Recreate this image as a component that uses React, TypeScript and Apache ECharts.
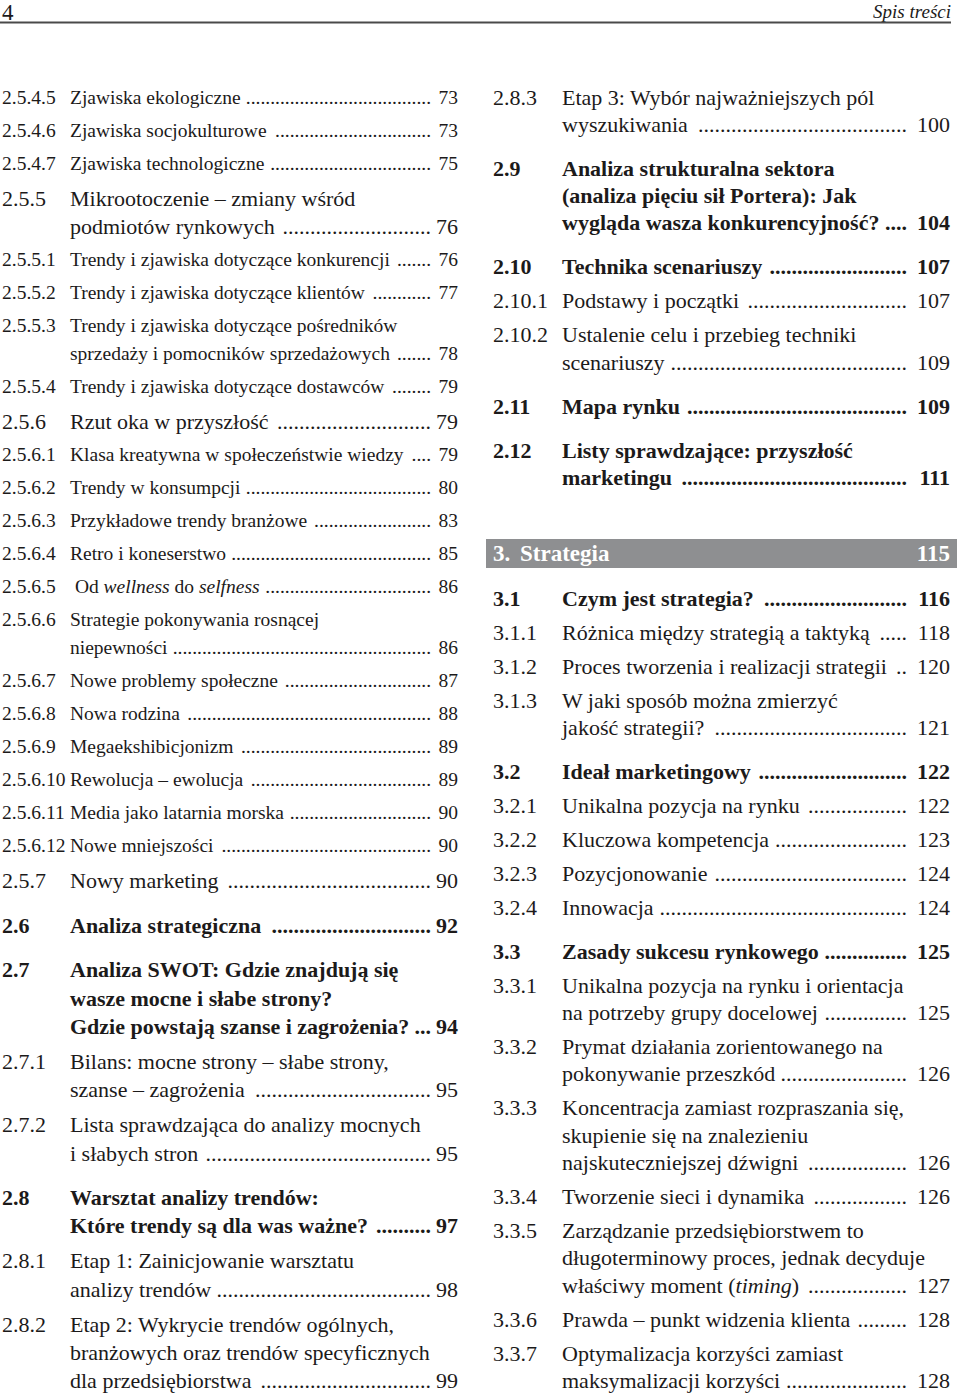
import React, { useEffect, useRef } from "react";
import * as echarts from "echarts";

// ---------- DATA ----------
const headerPage = "4";
const headerTitle = "Spis treści";

const leftNums = ["2.5.4.5", "2.5.4.6", "2.5.4.7", "2.5.5", "2.5.5.1", "2.5.5.2", "2.5.5.3", "2.5.5.4", "2.5.6", "2.5.6.1", "2.5.6.2", "2.5.6.3", "2.5.6.4", "2.5.6.5", "2.5.6.6", "2.5.6.7", "2.5.6.8", "2.5.6.9", "2.5.6.10", "2.5.6.11", "2.5.6.12", "2.5.7", "2.6", "2.7", "2.7.1", "2.7.2", "2.8", "2.8.1", "2.8.2"];
const leftTitles = [
  ["Zjawiska ekologiczne"],
  ["Zjawiska socjokulturowe"],
  ["Zjawiska technologiczne"],
  ["Mikrootoczenie – zmiany wśród", "podmiotów rynkowych"],
  ["Trendy i zjawiska dotyczące konkurencji"],
  ["Trendy i zjawiska dotyczące klientów"],
  ["Trendy i zjawiska dotyczące pośredników", "sprzedaży i pomocników sprzedażowych"],
  ["Trendy i zjawiska dotyczące dostawców"],
  ["Rzut oka w przyszłość"],
  ["Klasa kreatywna w społeczeństwie wiedzy"],
  ["Trendy w konsumpcji"],
  ["Przykładowe trendy branżowe"],
  ["Retro i koneserstwo"],
  [" Od *wellness* do *selfness*"],
  ["Strategie pokonywania rosnącej", "niepewności"],
  ["Nowe problemy społeczne"],
  ["Nowa rodzina"],
  ["Megaekshibicjonizm"],
  ["Rewolucja – ewolucja"],
  ["Media jako latarnia morska"],
  ["Nowe mniejszości"],
  ["Nowy marketing"],
  ["Analiza strategiczna"],
  ["Analiza SWOT: Gdzie znajdują się", "wasze mocne i słabe strony?", "Gdzie powstają szanse i zagrożenia?"],
  ["Bilans: mocne strony – słabe strony,", "szanse – zagrożenia"],
  ["Lista sprawdzająca do analizy mocnych", "i słabych stron"],
  ["Warsztat analizy trendów:", "Które trendy są dla was ważne?"],
  ["Etap 1: Zainicjowanie warsztatu", "analizy trendów"],
  ["Etap 2: Wykrycie trendów ogólnych,", "branżowych oraz trendów specyficznych", "dla przedsiębiorstwa"],
];
const leftPages = ["73", "73", "75", "76", "76", "77", "78", "79", "79", "79", "80", "83", "85", "86", "86", "87", "88", "89", "89", "90", "90", "90", "92", "94", "95", "95", "97", "98", "99"];

const rightNums = ["2.8.3", "2.9", "2.10", "2.10.1", "2.10.2", "2.11", "2.12"];
const rightTitles = [
  ["Etap 3: Wybór najważniejszych pól", "wyszukiwania"],
  ["Analiza strukturalna sektora", "(analiza pięciu sił Portera): Jak", "wygląda wasza konkurencyjność?"],
  ["Technika scenariuszy"],
  ["Podstawy i początki"],
  ["Ustalenie celu i przebieg techniki", "scenariuszy"],
  ["Mapa rynku"],
  ["Listy sprawdzające: przyszłość", "marketingu"],
];
const rightPages = ["100", "104", "107", "107", "109", "109", "111"];

const chapterNum = "3.";
const chapterTitle = "Strategia";
const chapterPage = "115";

const strategyNums = ["3.1", "3.1.1", "3.1.2", "3.1.3", "3.2", "3.2.1", "3.2.2", "3.2.3", "3.2.4", "3.3", "3.3.1", "3.3.2", "3.3.3", "3.3.4", "3.3.5", "3.3.6", "3.3.7"];
const strategyTitles = [
  ["Czym jest strategia?"],
  ["Różnica między strategią a taktyką"],
  ["Proces tworzenia i realizacji strategii"],
  ["W jaki sposób można zmierzyć", "jakość strategii?"],
  ["Ideał marketingowy"],
  ["Unikalna pozycja na rynku"],
  ["Kluczowa kompetencja"],
  ["Pozycjonowanie"],
  ["Innowacja"],
  ["Zasady sukcesu rynkowego"],
  ["Unikalna pozycja na rynku i orientacja", "na potrzeby grupy docelowej"],
  ["Prymat działania zorientowanego na", "pokonywanie przeszkód"],
  ["Koncentracja zamiast rozpraszania się,", "skupienie się na znalezieniu", "najskuteczniejszej dźwigni"],
  ["Tworzenie sieci i dynamika"],
  ["Zarządzanie przedsiębiorstwem to", "długoterminowy proces, jednak decyduje", "właściwy moment (*timing*)"],
  ["Prawda – punkt widzenia klienta"],
  ["Optymalizacja korzyści zamiast", "maksymalizacji korzyści"],
];
const strategyPages = ["116", "118", "120", "121", "122", "122", "123", "124", "124", "125", "125", "126", "126", "126", "127", "128", "128"];

// ---------- STYLE / LAYOUT ----------
const FONT = '"Liberation Serif", "Times New Roman", serif';
const INK = "#1c1a1a";
const BAR = "#8e8f91";

const leftLayout = { numX: 2, titleX: 70, dotEnd: 431, pageRight: 458, startY: 97, inner: 28.3 };
const rightLayout = { numX: 493, titleX: 562, dotEnd: 907, pageRight: 950, startY: 97, inner: 27.3 };
const strategyStartY = 598;

let ctx: CanvasRenderingContext2D | null = null;
function measure(text: string, size: number, weight: string, italic: boolean) {
  if (!ctx) ctx = document.createElement("canvas").getContext("2d");
  ctx!.font = `${italic ? "italic " : ""}${weight} ${size}px ${FONT}`;
  return ctx!.measureText(text).width;
}

function levelOf(num: string) {
  return num.split(".").filter((s) => s !== "").length - 1;
}

function textEl(x: number, y: number, text: string, size: number, weight: string, align: string, fill = INK, italic = false) {
  return {
    type: "text",
    x,
    y,
    silent: true,
    style: {
      text,
      fill,
      fontSize: size,
      fontFamily: FONT,
      fontWeight: weight,
      fontStyle: italic ? "italic" : "normal",
      textAlign: align,
      align,
      textVerticalAlign: "middle",
      verticalAlign: "middle",
    },
  };
}

function lineEl(x: number, y: number, line: string, size: number, weight: string) {
  const parts = line.split("*");
  let width = 0;
  parts.forEach((p, i) => (width += measure(p, size, weight, i % 2 === 1)));
  if (parts.length === 1) {
    return { el: textEl(x, y, line, size, weight, "left"), width };
  }
  const rich: any = {
    r: { fontSize: size, fontFamily: FONT, fontWeight: weight, fontStyle: "normal", fill: INK },
    i: { fontSize: size, fontFamily: FONT, fontWeight: weight, fontStyle: "italic", fill: INK },
  };
  const text = parts
    .map((p, i) => (p === "" ? "" : `{${i % 2 === 1 ? "i" : "r"}|${p}}`))
    .join("");
  return {
    el: {
      type: "text",
      x,
      y,
      silent: true,
      style: {
        text,
        rich,
        fill: INK,
        fontSize: size,
        fontFamily: FONT,
        textAlign: "left",
        align: "left",
        textVerticalAlign: "middle",
        verticalAlign: "middle",
      },
    },
    width,
  };
}

function buildColumn(
  nums: string[],
  titles: string[][],
  pages: string[],
  L: typeof leftLayout,
  startY: number,
  gapFn: (prev: number, cur: number) => number,
  out: any[]
) {
  let y = startY;
  let prevLevel = -1;
  nums.forEach((num, i) => {
    const level = levelOf(num);
    const bold = level === 1;
    const weight = bold ? "bold" : "normal";
    const size = level >= 3 ? 19.5 : 22;
    if (i > 0) y += gapFn(prevLevel, level);
    out.push(textEl(L.numX, y, num, size, weight, "left"));
    const lines = titles[i];
    lines.forEach((line, j) => {
      if (j > 0) y += L.inner;
      const { el, width } = lineEl(L.titleX, y, line, size, weight);
      out.push(el);
      if (j === lines.length - 1) {
        const dotW = measure(".", size, weight, false);
        const start = L.titleX + width + 5;
        const n = Math.max(0, Math.floor((L.dotEnd - start) / dotW));
        if (n > 0) out.push(textEl(L.dotEnd, y, ".".repeat(n), size, weight, "right"));
        out.push(textEl(L.pageRight, y, pages[i], size, weight, "right"));
      }
    });
    prevLevel = level;
  });
}

function leftGap(prev: number, cur: number) {
  if (cur === 1) return 44.5;
  if (prev === 1) return 35;
  if (cur === 2) return 35;
  return 33;
}
function rightGap(prev: number, cur: number) {
  if (cur === 1) return 44;
  return 34;
}

function buildElements() {
  const els: any[] = [];
  // header
  els.push(textEl(2, 12, headerPage, 23, "normal", "left"));
  els.push(textEl(951, 11.5, headerTitle, 19, "normal", "right", INK, true));
  els.push({
    type: "line",
    silent: true,
    shape: { x1: 0, y1: 22.5, x2: 951, y2: 22.5 },
    style: { stroke: "#4a4a4a", lineWidth: 2 },
  });

  buildColumn(leftNums, leftTitles, leftPages, leftLayout, leftLayout.startY, leftGap, els);
  buildColumn(rightNums, rightTitles, rightPages, rightLayout, rightLayout.startY, rightGap, els);

  // chapter bar
  els.push({
    type: "rect",
    silent: true,
    shape: { x: 486, y: 539, width: 471, height: 29 },
    style: { fill: BAR },
  });
  els.push(textEl(493, 553.5, chapterNum, 23, "bold", "left", "#ffffff"));
  els.push(textEl(520, 553.5, chapterTitle, 23, "bold", "left", "#ffffff"));
  els.push(textEl(950, 553.5, chapterPage, 23, "bold", "right", "#ffffff"));

  buildColumn(strategyNums, strategyTitles, strategyPages, rightLayout, strategyStartY, rightGap, els);
  return els;
}

export default function App() {
  const ref = useRef<HTMLDivElement>(null);
  useEffect(() => {
    document.body.style.margin = "0";
    const chart = echarts.init(ref.current!, null, { renderer: "svg", width: 960, height: 1398 });
    chart.setOption({
      animation: false,
      backgroundColor: "#ffffff",
      graphic: { elements: buildElements() },
    });
    return () => chart.dispose();
  }, []);
  return (
    <div
      ref={ref}
      style={{ position: "absolute", left: 0, top: 0, width: 960, height: 1398, background: "#ffffff" }}
    />
  );
}
